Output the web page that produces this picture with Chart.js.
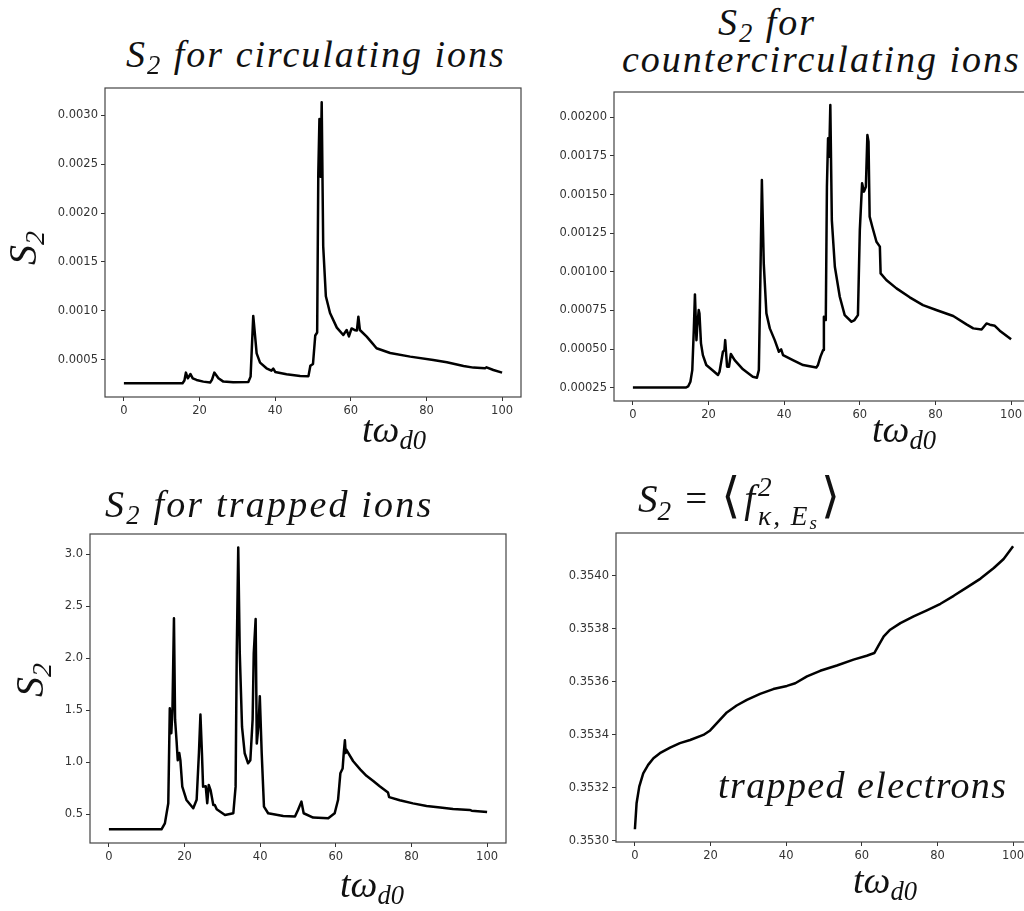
<!DOCTYPE html>
<html>
<head>
<meta charset="utf-8">
<script src="https://cdn.jsdelivr.net/npm/chart.js@4.4.1/dist/chart.umd.min.js"></script>
<style>
  html, body { margin:0; padding:0; background:#fff; width:1024px; height:911px; overflow:hidden; }
  canvas { position:absolute; }
  .tx { position:absolute; font-family:'Liberation Serif', 'Times New Roman', Tinos, 'Noto Serif', 'DejaVu Serif', FreeSerif, serif; font-style:italic; font-weight:normal; color:#111; white-space:nowrap; line-height:1; }
  .sb { font-size:0.7em; position:relative; top:0.28em; }
  .up { font-style:normal; }
  .ss { display:inline-block; vertical-align:middle; position:relative; font-size:0.7em; line-height:1.05; top:-0.05em; margin-left:3px; letter-spacing:2px; }
  .ss span.r { display:block; }
</style>
</head>
<body>
<canvas id="c1" width="506" height="349" style="left:25px;top:78px"></canvas>
<canvas id="c2" width="506" height="349" style="left:534px;top:82px"></canvas>
<canvas id="c3" width="506" height="349" style="left:10px;top:524px"></canvas>
<canvas id="c4" width="506" height="349" style="left:536px;top:523px"></canvas>

<div class="tx" style="left:126px;top:35px;font-size:38px;letter-spacing:2px">S<span class="sb">2</span> for circulating ions</div>
<div class="tx" style="left:718px;top:3px;font-size:38px;letter-spacing:2px">S<span class="sb">2</span> for</div>
<div class="tx" style="left:622px;top:40px;font-size:38px;letter-spacing:2px">countercirculating ions</div>
<div class="tx" style="left:105px;top:485px;font-size:38px;letter-spacing:2.2px">S<span class="sb">2</span> for trapped ions</div>
<div class="tx" style="left:638px;top:472px;font-size:39px">S<span class="sb">2</span><span class="up" style="margin:0 14px">=</span><span class="up" style="font-size:1.25em;font-weight:300;margin-right:4px">⟨</span>f<span class="ss"><span class="r">2</span><span class="r">κ, E<span class="sb" style="top:0.2em">s</span></span></span><span class="up" style="font-size:1.25em;font-weight:300;margin-left:2px">⟩</span></div>
<div class="tx" style="left:718px;top:766px;font-size:38px;letter-spacing:1.4px">trapped electrons</div>

<div class="tx" style="left:362px;top:410px;font-size:38px">tω<span class="sb">d0</span></div>
<div class="tx" style="left:872px;top:410px;font-size:38px">tω<span class="sb">d0</span></div>
<div class="tx" style="left:340px;top:865px;font-size:38px">tω<span class="sb">d0</span></div>
<div class="tx" style="left:853px;top:861px;font-size:38px">tω<span class="sb">d0</span></div>

<div class="tx" style="left:6px;top:228px;font-size:40px;transform:rotate(-90deg);transform-origin:center">S<span class="sb">2</span></div>
<div class="tx" style="left:13px;top:660px;font-size:40px;transform:rotate(-90deg);transform-origin:center">S<span class="sb">2</span></div>

<script>
// ---- shared x ticks ----
const xTickVals = [0, 20, 40, 60, 80, 100];
const xTickLabels = ["0", "20", "40", "60", "80", "100"];

// ---- panel 1: circulating ions ----
const tCirc = [0, 15.5, 16.0, 16.4, 16.9, 17.6, 18.2, 19.2, 21, 22.8, 23.3, 23.9, 25, 26.3, 28.9, 32.9, 33.5, 34.2, 34.7, 35.1, 36, 37.7, 39, 39.5, 40, 43, 46.6, 48.8, 49.3, 50.0, 50.6, 51.1, 51.4, 51.7, 52.0, 52.3, 52.7, 53.4, 54.5, 56.3, 58.0, 58.9, 59.5, 60.2, 61.2, 61.6, 62.0, 62.4, 64.2, 65.5, 66.8, 70.4, 75.7, 81.8, 85.4, 89.8, 92.4, 95.5, 95.9, 97.7, 100];
const s2Circ = [0.000262, 0.000262, 0.000290, 0.000371, 0.000313, 0.000357, 0.000312, 0.000296, 0.000279, 0.000269, 0.000300, 0.000371, 0.000313, 0.000279, 0.000272, 0.000276, 0.000330, 0.000950, 0.000738, 0.000568, 0.000473, 0.000415, 0.000391, 0.000412, 0.000378, 0.000354, 0.000337, 0.000335, 0.000440, 0.000460, 0.000750, 0.000780, 0.002400, 0.002960, 0.002370, 0.003130, 0.001660, 0.001150, 0.000980, 0.000830, 0.000755, 0.000806, 0.000740, 0.000822, 0.000803, 0.000800, 0.000942, 0.000806, 0.000738, 0.000680, 0.000620, 0.000571, 0.000534, 0.000500, 0.000476, 0.000439, 0.000422, 0.000415, 0.000425, 0.000398, 0.000371];
const yTicks1 = [0.0005, 0.0010, 0.0015, 0.0020, 0.0025, 0.0030];
const yLabels1 = ["0.0005", "0.0010", "0.0015", "0.0020", "0.0025", "0.0030"];

// ---- panel 2: countercirculating ions ----
const tCounter = [0, 14.1, 14.6, 15.2, 15.7, 16.1, 16.4, 16.8, 17.0, 17.4, 17.6, 18.0, 18.5, 19.4, 21.2, 22.5, 22.9, 23.8, 24.2, 24.4, 24.9, 25.4, 25.9, 26.9, 29.1, 31.7, 32.8, 33.3, 33.7, 34.1, 34.6, 35.3, 36.2, 37.5, 38.6, 39.2, 39.7, 42.3, 45, 48.5, 48.9, 49.6, 50.3, 50.5, 51.0, 51.3, 51.6, 51.9, 52.2, 52.6, 53.4, 54.7, 56, 57.8, 58.6, 59.5, 60.0, 60.6, 61.1, 61.6, 62.0, 62.3, 62.6, 63.3, 64.4, 65.3, 65.5, 67, 69.7, 73.2, 76.7, 80.2, 84.7, 88.2, 90, 92.2, 93.5, 94.4, 95.7, 97, 100];
const s2Counter = [0.000252, 0.000252, 0.000258, 0.000289, 0.000364, 0.000623, 0.000854, 0.000558, 0.000640, 0.000753, 0.000730, 0.000537, 0.000461, 0.000397, 0.000360, 0.000332, 0.000353, 0.000483, 0.000494, 0.000558, 0.000386, 0.000386, 0.000468, 0.000429, 0.000369, 0.000321, 0.000315, 0.000364, 0.000947, 0.001594, 0.001055, 0.000731, 0.000634, 0.000558, 0.000483, 0.000498, 0.000461, 0.000429, 0.000397, 0.000381, 0.000395, 0.000451, 0.000494, 0.000710, 0.000688, 0.001550, 0.001864, 0.001745, 0.002080, 0.001335, 0.001033, 0.000839, 0.000720, 0.000677, 0.000688, 0.000720, 0.001270, 0.001573, 0.001519, 0.001550, 0.001886, 0.001842, 0.001357, 0.001292, 0.001195, 0.001163, 0.000990, 0.000947, 0.000893, 0.000835, 0.000785, 0.000753, 0.000714, 0.000660, 0.000634, 0.000627, 0.000666, 0.000658, 0.000651, 0.000619, 0.000563];
const yTicks2 = [0.00025, 0.00050, 0.00075, 0.00100, 0.00125, 0.00150, 0.00175, 0.00200];
const yLabels2 = ["0.00025", "0.00050", "0.00075", "0.00100", "0.00125", "0.00150", "0.00175", "0.00200"];

// ---- panel 3: trapped ions ----
const tTrapped = [0, 13.9, 14.8, 15.7, 16.1, 16.5, 16.8, 17.2, 17.5, 17.9, 18.2, 18.6, 18.9, 19.4, 20.5, 22.3, 23.2, 23.8, 24.2, 24.6, 24.9, 25.6, 26.0, 26.4, 26.9, 27.6, 28.0, 28.5, 30.7, 32.9, 33.5, 33.8, 34.2, 34.6, 35.2, 35.9, 36.8, 37.4, 38.0, 38.3, 38.8, 39.1, 39.6, 39.9, 40.4, 41.0, 42.1, 46.1, 49.2, 50.0, 50.9, 51.5, 54, 58, 59.7, 60.6, 61.2, 61.8, 62.1, 62.4, 62.6, 62.8, 64.6, 66.5, 68.1, 69.9, 71.6, 73.8, 74.1, 76.9, 80.4, 84, 87.6, 91, 95.4, 95.9, 100];
const s2Trapped = [0.356, 0.356, 0.413, 0.606, 1.52, 1.28, 1.50, 2.385, 1.41, 1.20, 1.02, 1.09, 1.02, 0.766, 0.638, 0.558, 0.640, 1.087, 1.460, 1.090, 0.766, 0.770, 0.606, 0.782, 0.730, 0.590, 0.590, 0.548, 0.494, 0.510, 0.766, 2.05, 3.065, 2.05, 1.34, 1.087, 0.990, 1.020, 1.41, 2.05, 2.378, 1.18, 1.375, 1.635, 1.09, 0.574, 0.510, 0.484, 0.478, 0.542, 0.622, 0.510, 0.468, 0.462, 0.510, 0.640, 0.894, 0.940, 1.09, 1.212, 1.09, 1.12, 1.01, 0.93, 0.87, 0.82, 0.77, 0.71, 0.665, 0.635, 0.605, 0.580, 0.565, 0.550, 0.542, 0.535, 0.522];
const yTicks3 = [0.5, 1.0, 1.5, 2.0, 2.5, 3.0];
const yLabels3 = ["0.5", "1.0", "1.5", "2.0", "2.5", "3.0"];

// ---- panel 4: trapped electrons ----
const tElec = [0, 0.44, 1.15, 2.2, 3.5, 4.9, 6.6, 9.3, 11.9, 14.6, 18.1, 19.9, 22.1, 24.3, 26.9, 29.6, 33.1, 36.6, 40.2, 42.4, 45.5, 49, 53.4, 57.8, 61.3, 63.3, 64.4, 65.8, 67.5, 70.2, 73.7, 77.2, 80.8, 84.3, 87.8, 91.4, 94.9, 97.5, 100];
const s2Elec = [0.353043, 0.353141, 0.353204, 0.353254, 0.353286, 0.353311, 0.353330, 0.353351, 0.353368, 0.353380, 0.353399, 0.353416, 0.353450, 0.353484, 0.353510, 0.353531, 0.353554, 0.353572, 0.353584, 0.353594, 0.353620, 0.353641, 0.353661, 0.353683, 0.353698, 0.353708, 0.353736, 0.353771, 0.353796, 0.353821, 0.353846, 0.353869, 0.353894, 0.353924, 0.353956, 0.353989, 0.354029, 0.354063, 0.354111];
const yTicks4 = [0.3530, 0.3532, 0.3534, 0.3536, 0.3538, 0.3540];
const yLabels4 = ["0.3530", "0.3532", "0.3534", "0.3536", "0.3538", "0.3540"];

const boxPlugin = {
  id: 'box',
  afterDraw(chart) {
    const a = chart.chartArea, ctx = chart.ctx;
    ctx.save();
    ctx.strokeStyle = '#444';
    ctx.lineWidth = 1.2;
    ctx.strokeRect(a.left, a.top, a.right - a.left, a.bottom - a.top);
    ctx.restore();
  }
};

function makeChart(id, xs, ys, yMin, yMax, yT, yL) {
  const tickFont = { family: 'DejaVu Sans', size: 11.5 };
  new Chart(document.getElementById(id), {
    type: 'line',
    data: { datasets: [{ data: xs.map((x, i) => ({ x: x, y: ys[i] })), borderColor: '#000', borderWidth: 2.5, pointRadius: 0, tension: 0, fill: false, borderJoinStyle: 'round' }] },
    options: {
      responsive: false, animation: false,
      layout: { padding: { left: 0, top: 10, right: 10, bottom: 0 } },
      plugins: { legend: { display: false }, tooltip: { enabled: false } },
      scales: {
        x: {
          type: 'linear', min: -5, max: 105,
          afterBuildTicks: s => { s.ticks = xTickVals.map(v => ({ value: v })); },
          afterFit: s => { s.height = 30; },
          ticks: { callback: (v, i) => xTickLabels[i], font: tickFont, color: '#333', padding: 3, maxRotation: 0, autoSkip: false },
          grid: { display: true, drawOnChartArea: false, drawTicks: true, tickLength: 4, color: '#333', lineWidth: 1 },
          border: { display: false }
        },
        y: {
          type: 'linear', min: yMin, max: yMax,
          afterBuildTicks: s => { s.ticks = yT.map(v => ({ value: v })); },
          afterFit: s => { s.width = 80; },
          ticks: { callback: (v, i) => yL[i], font: tickFont, color: '#333', padding: 3, autoSkip: false },
          grid: { display: true, drawOnChartArea: false, drawTicks: true, tickLength: 4, color: '#333', lineWidth: 1 },
          border: { display: false }
        }
      }
    },
    plugins: [boxPlugin]
  });
}

makeChart('c1', tCirc, s2Circ, 0.000122, 0.003276, yTicks1, yLabels1);
makeChart('c2', tCounter, s2Counter, 0.000164, 0.002164, yTicks2, yLabels2);
makeChart('c3', tTrapped, s2Trapped, 0.224, 3.195, yTicks3, yLabels3);
makeChart('c4', tElec, s2Elec, 0.352995, 0.354161, yTicks4, yLabels4);
</script>
</body>
</html>
